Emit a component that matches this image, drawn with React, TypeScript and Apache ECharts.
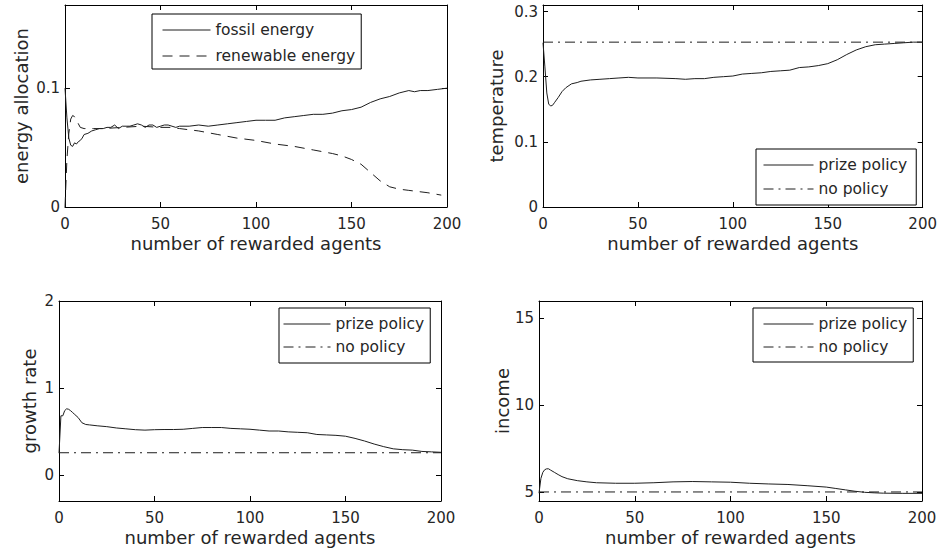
import React, { useEffect, useRef } from "react";
import * as echarts from "echarts";

// ---------- data ----------
const X_TICKS = [0, 50, 100, 150, 200];
const X_LABEL = "number of rewarded agents";

// panel 1: energy allocation
const fossilX = [0, 1, 2, 3, 4, 5, 6, 7, 8, 9, 10, 12, 14, 16, 18, 20, 22, 24, 26, 28, 30, 32, 34, 36, 38, 40, 42, 44, 46, 48, 50, 52, 54, 56, 58, 60, 65, 70, 75, 80, 85, 90, 95, 100, 105, 110, 115, 120, 125, 130, 135, 140, 145, 150, 155, 160, 165, 170, 175, 180, 183, 186, 190, 195, 200];
const fossilY = [0.1, 0.075, 0.058, 0.052, 0.051, 0.054, 0.053, 0.055, 0.056, 0.058, 0.061, 0.062, 0.064, 0.065, 0.066, 0.066, 0.067, 0.067, 0.069, 0.066, 0.068, 0.068, 0.068, 0.069, 0.07, 0.069, 0.067, 0.069, 0.069, 0.067, 0.068, 0.069, 0.069, 0.068, 0.067, 0.068, 0.068, 0.069, 0.068, 0.069, 0.07, 0.071, 0.072, 0.073, 0.073, 0.073, 0.075, 0.076, 0.077, 0.078, 0.078, 0.079, 0.081, 0.082, 0.084, 0.088, 0.091, 0.093, 0.096, 0.098, 0.097, 0.098, 0.098, 0.099, 0.1];
const renewX = [0, 1, 2, 3, 4, 5, 6, 7, 8, 10, 12, 15, 20, 30, 40, 50, 55, 60, 70, 80, 90, 100, 110, 120, 130, 140, 145, 150, 155, 160, 165, 170, 175, 180, 190, 197];
const renewY = [0, 0.04, 0.062, 0.074, 0.077, 0.076, 0.074, 0.07, 0.067, 0.066, 0.066, 0.066, 0.066, 0.067, 0.068, 0.067, 0.067, 0.066, 0.064, 0.061, 0.058, 0.056, 0.053, 0.051, 0.048, 0.045, 0.043, 0.04, 0.036, 0.029, 0.022, 0.017, 0.015, 0.014, 0.012, 0.01];
const energyTicks = [0, 0.1];

// panel 2: temperature
const tempX = [0, 1, 2, 3, 4, 5, 6, 8, 10, 12, 15, 18, 20, 25, 30, 35, 40, 45, 50, 60, 70, 75, 80, 85, 90, 95, 100, 105, 110, 115, 120, 125, 130, 135, 140, 145, 150, 155, 160, 165, 170, 175, 180, 185, 190, 195, 200];
const tempY = [0.252, 0.215, 0.175, 0.158, 0.155, 0.156, 0.16, 0.168, 0.177, 0.183, 0.189, 0.191, 0.193, 0.195, 0.196, 0.197, 0.198, 0.199, 0.198, 0.198, 0.197, 0.196, 0.197, 0.197, 0.199, 0.2, 0.201, 0.204, 0.205, 0.206, 0.208, 0.209, 0.21, 0.214, 0.215, 0.217, 0.22, 0.226, 0.234, 0.241, 0.246, 0.249, 0.25, 0.251, 0.252, 0.253, 0.253];
const tempNoPolicy = 0.253;
const tempTicks = [0, 0.1, 0.2, 0.3];

// panel 3: growth rate
const growthX = [0, 1, 2, 3, 4, 5, 6, 7, 8, 10, 12, 14, 16, 20, 25, 30, 35, 40, 45, 50, 55, 60, 65, 70, 75, 80, 85, 90, 95, 100, 105, 110, 115, 120, 125, 130, 135, 140, 145, 150, 155, 160, 165, 170, 175, 180, 185, 190, 195, 200];
const growthY = [0.25, 0.68, 0.68, 0.74, 0.76, 0.755, 0.74, 0.72, 0.7, 0.66, 0.6, 0.58, 0.575, 0.565, 0.555, 0.54, 0.53, 0.52, 0.515, 0.52, 0.522, 0.522, 0.525, 0.535, 0.545, 0.545, 0.545, 0.535, 0.53, 0.525, 0.515, 0.505, 0.505, 0.495, 0.49, 0.485, 0.465, 0.46, 0.455, 0.445, 0.42, 0.39, 0.355, 0.325, 0.3, 0.29, 0.285, 0.27, 0.265, 0.26];
const growthNoPolicy = 0.255;
const growthTicks = [0, 1, 2];

// panel 4: income
const incomeX = [0, 1, 2, 3, 4, 5, 6, 8, 10, 12, 15, 20, 25, 30, 40, 50, 60, 70, 80, 90, 100, 110, 120, 130, 140, 150, 155, 160, 165, 170, 175, 180, 190, 200];
const incomeY = [4.95, 5.8, 6.15, 6.3, 6.35, 6.35, 6.28, 6.15, 6.02, 5.9, 5.78, 5.67, 5.6, 5.55, 5.52, 5.52, 5.55, 5.6, 5.62, 5.6, 5.58, 5.52, 5.48, 5.45, 5.38, 5.3, 5.22, 5.14, 5.06, 5.0, 4.97, 4.95, 4.94, 4.94];
const incomeNoPolicy = 5.02;
const incomeTicks = [5, 10, 15];

// ---------- style ----------
const FONT = "DejaVu Sans";
const TEXT = "#262626";
const AXIS = "#000";
const LINE = "#1e1e1e";
const DASH = [10, 7];
const DASHDOT = [10, 5, 2, 5];

const zip = (xs: number[], ys: number[]) => xs.map((x, i) => [x, ys[i]]);
const flat = (v: number) => [[0, v], [200, v]];

type Panel = {
  grid: { left: number; top: number; width: number; height: number };
  yMin: number;
  yMax: number;
  yTicks: number[];
  yName: string;
  yGap: number;
};

const panels: Panel[] = [
  { grid: { left: 65, top: 5, width: 382, height: 202 }, yMin: 0, yMax: 0.17, yTicks: energyTicks, yName: "energy allocation", yGap: 35 },
  { grid: { left: 543, top: 5, width: 382, height: 202 }, yMin: 0, yMax: 0.31, yTicks: tempTicks, yName: "temperature", yGap: 38 },
  { grid: { left: 59, top: 301, width: 382, height: 200 }, yMin: -0.3, yMax: 2, yTicks: growthTicks, yName: "growth rate", yGap: 21 },
  { grid: { left: 539, top: 301, width: 383, height: 200 }, yMin: 4.5, yMax: 16, yTicks: incomeTicks, yName: "income", yGap: 27 },
];

function buildOption() {
  const grid: any[] = [];
  const xAxis: any[] = [];
  const yAxis: any[] = [];
  panels.forEach((p, i) => {
    grid.push({ ...p.grid, containLabel: false, show: false });
    const tick = { show: true, inside: true, length: 5, lineStyle: { color: AXIS, width: 1 } };
    const line = { show: true, onZero: false, lineStyle: { color: AXIS, width: 1 } };
    xAxis.push({
      type: "value", gridIndex: i, position: "bottom", min: 0, max: 200, interval: 50,
      axisLine: line, axisTick: tick, splitLine: { show: false },
      axisLabel: { color: TEXT, fontFamily: FONT, fontSize: 15, margin: 9, customValues: X_TICKS },
      name: X_LABEL, nameLocation: "middle", nameGap: 27,
      nameTextStyle: { color: TEXT, fontFamily: FONT, fontSize: 18 },
    });
    xAxis.push({
      type: "value", gridIndex: i, position: "top", min: 0, max: 200, interval: 50,
      axisLine: line, axisTick: tick, splitLine: { show: false }, axisLabel: { show: false },
    });
    yAxis.push({
      type: "value", gridIndex: i, position: "left", min: p.yMin, max: p.yMax,
      axisLine: line, axisTick: { ...tick, customValues: p.yTicks }, splitLine: { show: false },
      axisLabel: { color: TEXT, fontFamily: FONT, fontSize: 15, margin: 5, customValues: p.yTicks },
      name: p.yName, nameLocation: "middle", nameGap: p.yGap,
      nameTextStyle: { color: TEXT, fontFamily: FONT, fontSize: 18 },
    });
    yAxis.push({
      type: "value", gridIndex: i, position: "right", min: p.yMin, max: p.yMax,
      axisLine: line, axisTick: { ...tick, customValues: p.yTicks }, splitLine: { show: false },
      axisLabel: { show: false },
    });
  });

  const mk = (name: string, i: number, data: number[][], type: any) => ({
    type: "line", name, xAxisIndex: 2 * i, yAxisIndex: 2 * i, data,
    symbol: "none", showSymbol: false, silent: true,
    lineStyle: { color: LINE, width: 1, type },
    itemStyle: { color: LINE },
  });

  const series = [
    mk("fossil energy", 0, zip(fossilX, fossilY), "solid"),
    mk("renewable energy", 0, zip(renewX, renewY), DASH),
    mk("prize policy", 1, zip(tempX, tempY), "solid"),
    mk("no policy", 1, flat(tempNoPolicy), DASHDOT),
    mk("prize policy", 2, zip(growthX, growthY), "solid"),
    mk("no policy", 2, flat(growthNoPolicy), DASHDOT),
    mk("prize policy", 3, zip(incomeX, incomeY), "solid"),
    mk("no policy", 3, flat(incomeNoPolicy), DASHDOT),
  ];

  const legendBase = {
    orient: "vertical", selectedMode: false, itemHeight: 13,
    borderColor: AXIS, borderWidth: 1, backgroundColor: "#fff", borderRadius: 0,
    itemStyle: { opacity: 0, borderWidth: 0 },
    lineStyle: { width: 1 },
    textStyle: { color: TEXT, fontFamily: FONT, fontSize: 15.5 },
  };
  const legend = [
    { ...legendBase, data: ["fossil energy", "renewable energy"], left: 152, top: 14, itemWidth: 48, itemGap: 10, padding: [8, 6, 5, 10] },
    { ...legendBase, data: ["prize policy", "no policy"], left: 756, top: 149, itemWidth: 50, itemGap: 8, padding: [8, 9, 8, 7] },
    { ...legendBase, data: ["prize policy", "no policy"], left: 279, top: 308, itemWidth: 47, itemGap: 7, padding: [8, 6, 8, 4] },
    { ...legendBase, data: ["prize policy", "no policy"], left: 753, top: 308, itemWidth: 50, itemGap: 7, padding: [8, 6, 7, 10] },
  ];

  return { animation: false, backgroundColor: "#fff", grid, xAxis, yAxis, series, legend };
}

export default function App() {
  const ref = useRef<HTMLDivElement>(null);
  useEffect(() => {
    document.body.style.margin = "0";
    const chart = echarts.init(ref.current!, undefined, { renderer: "svg", width: 940, height: 556 });
    chart.setOption(buildOption() as any);
    return () => chart.dispose();
  }, []);
  return <div ref={ref} style={{ position: "fixed", left: 0, top: 0, width: 940, height: 556, background: "#fff" }} />;
}
